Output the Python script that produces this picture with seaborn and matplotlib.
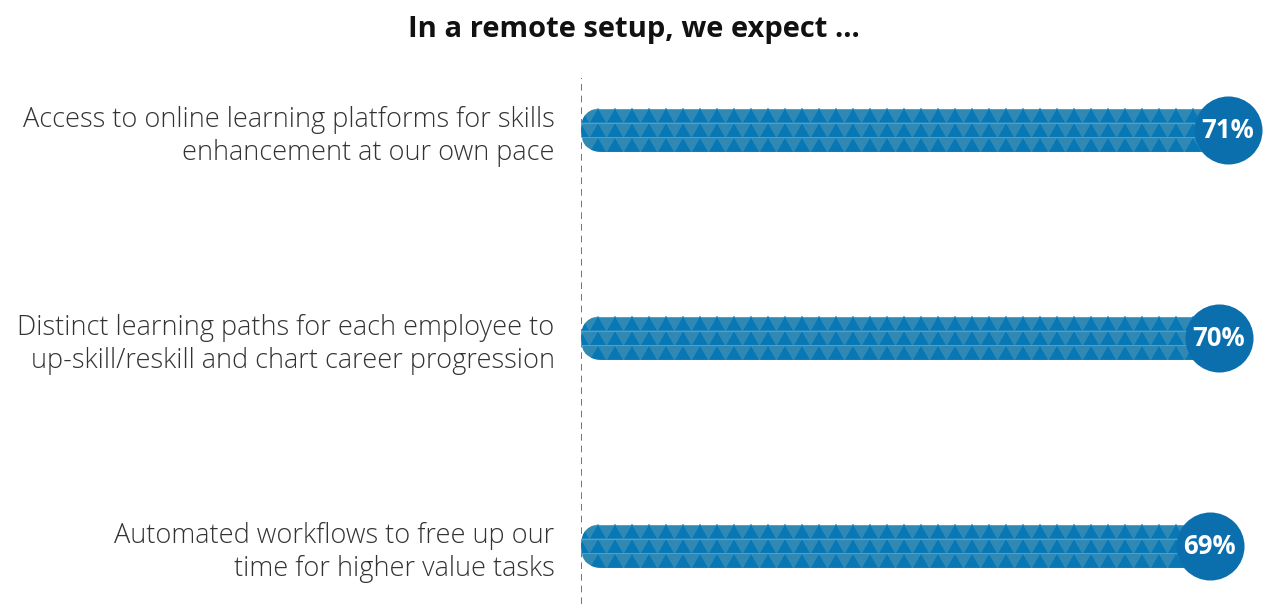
import numpy as np
import pandas as pd
import matplotlib
matplotlib.use('Agg')
import matplotlib.pyplot as plt
from matplotlib.patches import FancyBboxPatch
from matplotlib.collections import PolyCollection
import seaborn as sns

# data
labels = ['Access to online learning platforms for skills\nenhancement at our own pace',
          'Distinct learning paths for each employee to\nup-skill/reskill and chart career progression',
          'Automated workflows to free up our\ntime for higher value tasks']
values = [71, 70, 69]
title = 'In a remote setup, we expect ...'

bar_color = '#1b90c7'
tri_color = '#0877b4'
circle_color = '#0b6fae'

sns.set_style('white')
plt.rcParams['font.family'] = ['Open Sans', 'DejaVu Sans']

W, H = 1267, 604
px_per_unit = 9.11      # pixels per percentage point
row_px = 208            # pixels between bars
bar_px = 44

fig = plt.figure(figsize=(W / 100, H / 100), dpi=100)
ax = fig.add_axes([581 / W, 0, (W - 581) / W, 1])

df = pd.DataFrame({'label': labels, 'value': values})
sns.barplot(data=df, x='value', y='label', color=bar_color,
            width=bar_px / row_px, ax=ax, zorder=2)

ax.set_xlim(0, (W - 581) / px_per_unit)
ax.set_ylim(2 + (H - 546) / row_px, -130 / row_px)

# rounded bars + triangle pattern, clipped to the rounded shape
aspect = px_per_unit / row_px
rad = (bar_px / 2) / px_per_unit
tri_w = 17 / px_per_unit
row_h = (bar_px / 3) / row_px
for bar in ax.patches[:len(values)]:
    x0, y0 = bar.get_x(), bar.get_y()
    bw, bh = bar.get_width(), bar.get_height()
    clip = FancyBboxPatch((x0, y0), bw, bh,
                          boxstyle='round,pad=0,rounding_size=%f' % rad,
                          mutation_aspect=aspect, facecolor='none',
                          edgecolor='none', transform=ax.transData)
    ax.add_patch(clip)
    bar.set_clip_path(clip)
    tris = []
    for r in range(3):
        yb = y0 + (r + 1) * row_h   # bottom of row (y axis is inverted)
        yt = y0 + r * row_h
        k = 0
        while x0 - tri_w / 2 + k * tri_w < x0 + bw:
            xs = x0 - tri_w / 2 + k * tri_w
            tris.append([(xs, yb), (xs + tri_w, yb), (xs + tri_w / 2, yt)])
            k += 1
    pc = PolyCollection(tris, facecolor=tri_color, edgecolor='#2f98cc',
                        linewidth=0.3, zorder=3)
    ax.add_collection(pc)
    pc.set_clip_path(clip)
    for r in range(1, 3):
        ln, = ax.plot([x0, x0 + bw], [y0 + r * row_h] * 2, color='#45a6d5',
                      lw=0.7, zorder=4)
        ln.set_clip_path(clip)

# end circles with value
ax.scatter(values, range(len(values)), s=2400, color=circle_color,
           zorder=5, linewidths=0)
for i, v in enumerate(values):
    ax.text(v, i, f'{v}%', color='white', fontsize=18.5, fontweight='bold',
            ha='center', va='center', zorder=6)

ax.axvline(0, ymax=1 - 78 / H, color='#5b4ea8', lw=1.2,
           ls=(0, (4, 3)), zorder=1)

ax.set_xlabel('')
ax.set_ylabel('')
ax.set_xticks([])
ax.tick_params(axis='y', length=0, pad=19)
for t in ax.get_yticklabels():
    t.set_fontsize(19.5)
    t.set_fontweight('light')
    t.set_color('#333333')
    t.set_ha('right')
    t.set_multialignment('right')
    t.set_linespacing(1.25)
sns.despine(ax=ax, left=True, bottom=True)

fig.text(634 / W, 1 - 30 / H, title, ha='center', va='center',
         fontsize=21, fontweight='bold', color='#111111')

fig.savefig('out.png', dpi=100)
